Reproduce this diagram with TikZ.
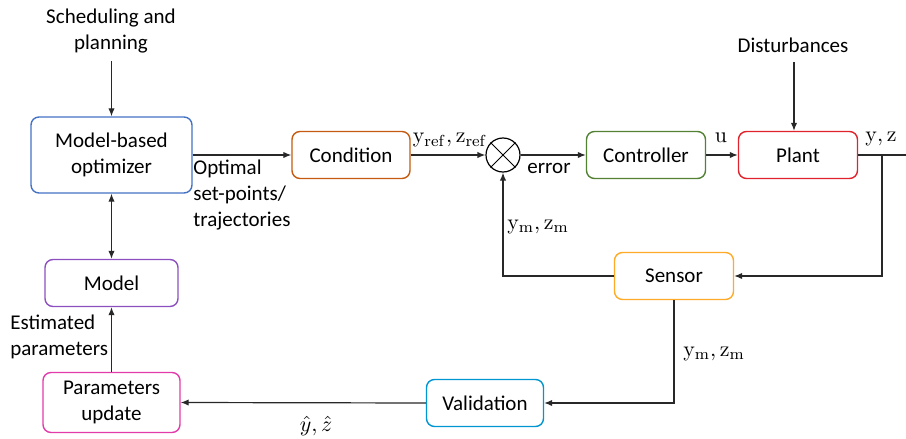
\documentclass[tikz,border=0pt]{standalone}
\usepackage[no-math]{fontspec}
\setmainfont{Carlito}
\usetikzlibrary{arrows.meta,positioning}

\definecolor{optblue}{RGB}{68,114,196}
\definecolor{condorange}{RGB}{197,90,17}
\definecolor{ctrlgreen}{RGB}{84,130,53}
\definecolor{plantred}{RGB}{225,35,45}
\definecolor{sensyellow}{RGB}{255,170,40}
\definecolor{valcyan}{RGB}{0,150,210}
\definecolor{modpurple}{RGB}{140,80,190}
\definecolor{parpink}{RGB}{225,60,170}
\definecolor{wire}{RGB}{40,40,40}

\tikzset{
  blk/.style={draw, rounded corners=4pt, line width=0.7pt, align=center, inner sep=0pt},
  lbl/.style={align=left, inner sep=0pt},
  mlbl/.style={inner sep=0pt, font=\fontsize{11}{13}\selectfont},
  arr/.style={-{Latex[length=4pt,width=3.2pt]}, line width=0.6pt, draw=wire},
  wr/.style={line width=0.6pt, draw=wire}
}

\begin{document}
\begin{tikzpicture}[x=0.5pt, y=-0.5pt, font=\fontsize{10.5}{13}\selectfont]
\useasboundingbox (0,0) rectangle (906,439);

\node [blk, draw=optblue, minimum width=80.5pt, minimum height=38pt] (opt) at (111.5,155) {Model-based\\optimizer};
\node [blk, draw=condorange, minimum width=59pt, minimum height=23.5pt] (cond) at (351,155) {Condition};
\node [circle, draw=black, line width=0.6pt, minimum size=17pt, inner sep=0pt] (sum) at (503,155) {};
\draw [line width=0.5pt] (sum.north west) -- (sum.south east);
\draw [line width=0.5pt] (sum.north east) -- (sum.south west);
\node [blk, draw=ctrlgreen, minimum width=59.5pt, minimum height=23.5pt] (ctrl) at (646,155) {Controller};
\node [blk, draw=plantred, minimum width=59.5pt, minimum height=23.5pt] (plant) at (798,155) {Plant};
\node [blk, draw=sensyellow, minimum width=59.5pt, minimum height=23.5pt] (sens) at (674,276) {Sensor};
\node [blk, draw=valcyan, minimum width=58.5pt, minimum height=23.5pt] (val) at (485,403) {Validation};
\node [blk, draw=modpurple, minimum width=66.5pt, minimum height=23.5pt] (model) at (111.5,283) {Model};
\node [blk, draw=parpink, minimum width=68.5pt, minimum height=30pt] (par) at (111.5,402.5) {Parameters\\update};

\node [align=center, inner sep=0pt] (sched) at (111,31) {Scheduling and\\planning};
\node [inner sep=0pt] (dist) at (793,45) {Disturbances};

\coordinate (schedend) at (111.5,61);
\coordinate (distend) at (794,62);
\coordinate (br) at (882,155);
\coordinate (out) at (906,155);

% main loop
\draw [arr] (schedend) -- (opt.north);
\draw [arr] (distend) -- (distend |- plant.north);
\draw [arr] (opt.east) -- (cond.west);
\draw [arr] (cond.east) -- (sum.west);
\draw [arr] (sum.east) -- (ctrl.west);
\draw [arr] (ctrl.east) -- (plant.west);
\draw [wr] (plant.east) -- (out);
\draw [arr] (br) |- (sens.east);
\draw [arr] (sens.west) -| (sum.south);

% estimation path
\draw [arr] (sens.south) |- (val.east);
\draw [arr] (val.west) -- (par.east);
\draw [arr] (par.north) -- (model.south);
\draw [{Latex[length=4pt,width=3.2pt]}-{Latex[length=4pt,width=3.2pt]}, line width=0.6pt, draw=wire] (opt.south) -- (model.north);

% labels
\node [lbl, anchor=north west] (optl) at (193,160) {Optimal\\set-points/\\trajectories};
\node [mlbl] (refl) at (450,140) {$\mathrm{y_{ref}},\mathrm{z_{ref}}$};
\node [lbl] (errl) at (549,168) {error};
\node [mlbl] (ul) at (721,138) {$\mathrm{u}$};
\node [mlbl] (yzl) at (881,139) {$\mathrm{y},\mathrm{z}$};
\node [mlbl] (fbl) at (538,227) {$\mathrm{y_m},\mathrm{z_m}$};
\node [mlbl] (sml) at (714,354) {$\mathrm{y_m},\mathrm{z_m}$};
\node [mlbl] (hatl) at (316,426) {$\hat{y},\hat{z}$};
\node [lbl, anchor=west] (estl) at (10,337) {Estimated\\parameters};

\end{tikzpicture}
\end{document}
